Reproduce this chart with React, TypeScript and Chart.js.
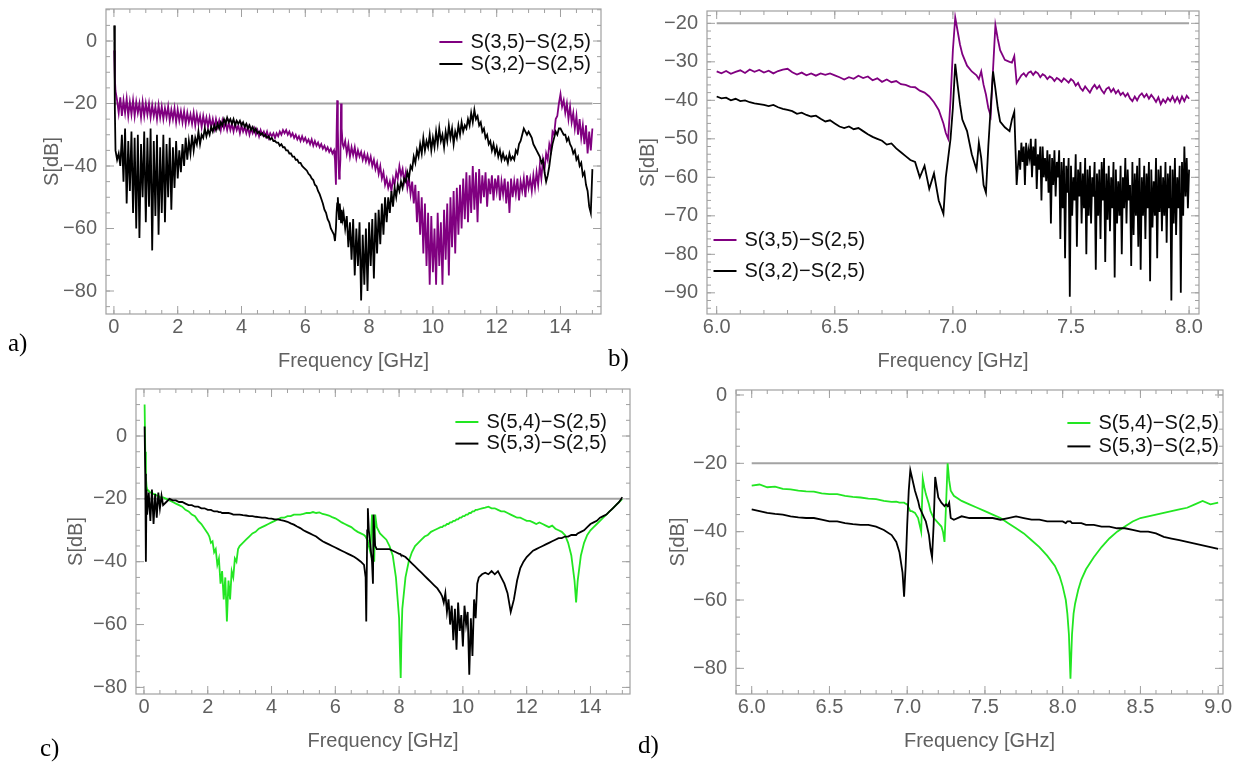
import React, { useEffect, useRef } from "react";
import { Chart, registerables } from "chart.js";

Chart.register(...registerables);

// ---------------- Panel a) ----------------
const aFreq = [
  0.01, 0.03,
  0.05, 0.1, 0.15, 0.2, 0.25, 0.3, 0.35, 0.4, 0.45, 0.5, 0.55, 0.6, 0.65, 0.7, 0.75, 0.8, 0.85, 0.9, 0.95, 1.0,
  1.05, 1.1, 1.15, 1.2, 1.25, 1.3, 1.35, 1.4, 1.45, 1.5, 1.55, 1.6, 1.65, 1.7, 1.75, 1.8, 1.85, 1.9, 1.95, 2.0,
  2.05, 2.1, 2.15, 2.2, 2.25, 2.3, 2.35, 2.4, 2.45, 2.5, 2.55, 2.6, 2.65, 2.7, 2.75, 2.8, 2.85, 2.9, 2.95, 3.0,
  3.05, 3.1, 3.15, 3.2, 3.25, 3.3, 3.35, 3.4, 3.45, 3.5, 3.55, 3.6, 3.65, 3.7, 3.75, 3.8, 3.85, 3.9, 3.95, 4.0,
  4.05, 4.1, 4.15, 4.2, 4.25, 4.3, 4.35, 4.4, 4.45, 4.5, 4.55, 4.6, 4.65, 4.7, 4.75, 4.8, 4.85, 4.9, 4.95, 5.0,
  5.05, 5.1, 5.15, 5.2, 5.25, 5.3, 5.35, 5.4, 5.45, 5.5, 5.55, 5.6, 5.65, 5.7, 5.75, 5.8, 5.85, 5.9, 5.95, 6.0,
  6.05, 6.1, 6.15, 6.2, 6.25, 6.3, 6.35, 6.4, 6.45, 6.5, 6.55, 6.6, 6.65, 6.7, 6.75, 6.8, 6.85, 6.9,
  6.93, 6.96, 6.98, 7.0, 7.02, 7.04, 7.06, 7.08, 7.1, 7.12, 7.14, 7.17, 7.2, 7.25,
  7.3, 7.35, 7.4, 7.45, 7.5, 7.55, 7.6, 7.65, 7.7, 7.75, 7.8, 7.85, 7.9, 7.95, 8.0,
  8.05, 8.1, 8.15, 8.2, 8.25, 8.3, 8.35, 8.4, 8.45, 8.5, 8.55, 8.6, 8.65, 8.7, 8.75, 8.8, 8.85, 8.9, 8.95, 9.0,
  9.05, 9.1, 9.15, 9.2, 9.25, 9.3, 9.35, 9.4, 9.45, 9.5, 9.55, 9.6, 9.65, 9.7, 9.75, 9.8, 9.85, 9.9, 9.95, 10.0,
  10.05, 10.1, 10.15, 10.2, 10.25, 10.3, 10.35, 10.4, 10.45, 10.5, 10.55, 10.6, 10.65, 10.7, 10.75, 10.8, 10.85, 10.9, 10.95, 11.0,
  11.05, 11.1, 11.15, 11.2, 11.25, 11.3, 11.35, 11.4, 11.45, 11.5, 11.55, 11.6, 11.65, 11.7, 11.75, 11.8, 11.85, 11.9, 11.95, 12.0,
  12.05, 12.1, 12.15, 12.2, 12.25, 12.3, 12.35, 12.4, 12.45, 12.5, 12.55, 12.6, 12.65, 12.7, 12.75, 12.8, 12.85, 12.9, 12.95, 13.0,
  13.05, 13.1, 13.15, 13.2, 13.25, 13.3, 13.35, 13.4, 13.45, 13.5, 13.55, 13.6, 13.65, 13.7, 13.75, 13.8, 13.85, 13.9, 13.95, 14.0,
  14.05, 14.1, 14.15, 14.2, 14.25, 14.3, 14.35, 14.4, 14.45, 14.5, 14.55, 14.6, 14.65, 14.7, 14.75, 14.8, 14.85, 14.9, 14.95, 15.0,
];
const aS35 = [
  -3, -12,
  -16, -19, -23, -18, -24, -19, -23, -18.5, -24, -19.5, -23.5, -19, -24, -19.5, -23, -20, -24.5, -19.5, -24, -20,
  -23.5, -20, -24.5, -20.5, -24, -21, -25, -20.5, -24.5, -21, -25, -21.5, -24.5, -21, -25.5, -22, -25, -21.5, -26, -22,
  -25.5, -22.5, -26, -22.5, -26.5, -23, -26, -23.5, -26.5, -23, -27, -23.5, -26.5, -24, -27.5, -24, -27, -24.5, -27.5, -24.5,
  -27.5, -25, -28, -25, -27.5, -25.5, -28.5, -25.5, -28, -26, -28.5, -26, -28.5, -26.5, -29, -26.5, -28.5, -27, -29.5, -27,
  -29, -27.5, -29.5, -27.5, -30, -28, -29.5, -28, -30, -28.5, -30.5, -28.5, -30, -29, -30.5, -29, -31, -29.5, -30.5, -29.5,
  -31, -29.5, -30.5, -29, -30, -28.5, -29.5, -28.5, -30, -29, -30.5, -29.5, -31, -30, -31.5, -30.5, -32, -30.5, -32, -31,
  -32.5, -31.5, -33, -31.5, -33.5, -32, -33.5, -32.5, -34, -33, -34.5, -33.5, -35, -34, -35.5, -34.5, -36, -35,
  -38, -46, -30, -19, -28, -38, -44, -42, -38, -20, -28, -33, -34, -32,
  -36, -33, -37, -34, -36.5, -34, -37.5, -35, -37, -35.5, -38, -36, -38.5, -36.5, -39,
  -37, -40, -38, -41, -39, -42.5, -40, -44, -42, -46, -44, -47, -45, -48, -44, -46, -42, -44, -40, -43,
  -41, -45, -42, -47, -44, -49, -45, -52, -46, -58, -48, -62, -50, -68, -52, -72, -55, -78, -56, -74,
  -60, -78, -55, -72, -58, -78, -54, -70, -52, -75, -50, -66, -48, -68, -47, -62, -46, -60, -44, -57,
  -42, -58, -43, -55, -40, -54, -42, -58, -41, -52, -43, -50, -42, -53, -44, -49, -43, -51, -44, -48,
  -43, -51, -45, -49, -44, -52, -45, -55, -44, -50, -45, -49, -44, -51, -45, -48, -44, -50, -43, -47,
  -44, -48, -43, -47, -42, -46, -40, -44, -38, -41, -36, -38, -33, -35, -29, -30, -25, -24, -20, -17,
  -21, -19, -23, -20, -25, -21, -26, -23, -28, -24, -30, -25, -31, -27, -33, -27, -36, -29, -35, -28,
];
const aS32 = [
  5, -22,
  -35, -38, -36, -40, -30, -45, -28, -52, -32, -48, -29, -55, -31, -60, -30, -63, -33, -50, -29, -58,
  -31, -53, -28, -67, -32, -56, -30, -62, -34, -55, -30, -58, -33, -50, -31, -54, -34, -47, -32, -44,
  -35, -42, -33, -40, -31, -38, -32, -36, -30, -35, -31, -33, -29, -33, -30, -31, -28, -30.5, -28.5, -30,
  -27.5, -29, -27, -28.5, -26.5, -28, -26, -27, -25, -26.5, -24.5, -26, -25, -26.5, -25, -27, -25.5, -26.5, -25.5, -27,
  -26, -27.5, -26.5, -28, -27, -28.5, -27.5, -29, -28, -29.5, -29, -30, -29.5, -30.5, -30, -31, -30.5, -31.5, -31, -32,
  -32, -32.5, -32.5, -33.5, -33, -34, -34, -35, -35, -36, -36, -37, -37, -38, -38, -39, -39, -40, -40.5, -41,
  -41.5, -42.5, -43, -44, -44.5, -46, -46.5, -48, -49, -50.5, -52, -54, -55, -57, -58, -60, -61, -62,
  -64, -60, -55, -52, -50, -54, -57, -52, -55, -58, -54, -57, -55, -60,
  -56, -66, -58, -70, -57, -75, -60, -72, -58, -83, -62, -78, -60, -80, -58,
  -72, -57, -76, -55, -68, -54, -65, -52, -62, -50, -58, -50, -55, -48, -53, -47, -50, -46, -48, -45,
  -47, -44, -45, -42, -44, -40, -41, -37, -39, -35, -37, -33, -36, -31, -35, -32, -34, -30, -35, -31,
  -34, -29, -33, -28, -32, -30, -34, -29, -32, -27, -31, -28, -33, -29, -31, -27, -30, -26, -29, -27,
  -28, -25, -27, -23, -26, -22, -25, -24, -27, -26, -29, -28, -31, -30, -33, -32, -35, -33, -36, -34,
  -37, -35, -38, -36, -38, -37, -39, -36, -38, -37, -38, -35, -36, -33, -32, -30, -28, -29, -30, -29,
  -30, -31, -33, -34, -35, -36, -37, -39, -38, -42, -45, -43, -40, -36, -33, -31, -29, -30, -28, -28,
  -29, -30, -30, -32, -31, -33, -34, -36, -35, -38, -37, -40, -39, -43, -42, -46, -48, -53, -55, -41,
];
const aXTicks = [0, 2, 4, 6, 8, 10, 12, 14];
const aYTicks = [0, -20, -40, -60, -80];

// ---------------- Panel b) ----------------
const bFreq35 = [
  6.0, 6.02, 6.04, 6.06, 6.08, 6.1, 6.12, 6.14, 6.16, 6.18,
  6.2, 6.22, 6.24, 6.26, 6.28, 6.3, 6.32, 6.34, 6.36, 6.38,
  6.4, 6.42, 6.44, 6.46, 6.48, 6.5, 6.52, 6.54, 6.56, 6.58,
  6.6, 6.62, 6.64, 6.66, 6.68, 6.7, 6.72, 6.74, 6.76, 6.78,
  6.8, 6.82, 6.84, 6.86, 6.88, 6.9, 6.92, 6.94, 6.96,
  6.97, 6.98, 6.99, 7.0, 7.01, 7.02, 7.03, 7.04, 7.06, 7.08,
  7.1, 7.11, 7.12, 7.13, 7.14, 7.15, 7.16, 7.17, 7.18, 7.19,
  7.2, 7.22, 7.24, 7.25, 7.26, 7.27,
  7.28, 7.29,
  7.3, 7.31, 7.32, 7.33, 7.34, 7.35, 7.36, 7.37, 7.38, 7.39,
  7.4, 7.41, 7.42, 7.43, 7.44, 7.45, 7.46, 7.47, 7.48, 7.49,
  7.5, 7.51, 7.52, 7.53, 7.54, 7.55, 7.56, 7.57, 7.58, 7.59,
  7.6, 7.61, 7.62, 7.63, 7.64, 7.65, 7.66, 7.67, 7.68, 7.69,
  7.7, 7.71, 7.72, 7.73, 7.74, 7.75, 7.76, 7.77, 7.78, 7.79,
  7.8, 7.81, 7.82, 7.83, 7.84, 7.85, 7.86, 7.87, 7.88, 7.89,
  7.9, 7.91, 7.92, 7.93, 7.94, 7.95, 7.96, 7.97, 7.98, 7.99,
  8.0,
];
const bS35 = [
  -32.5, -33, -32.4, -33.1, -32.6, -32.2, -32.9, -32.0, -32.6, -32.1,
  -32.8, -32.3, -33.0, -32.4, -32.0, -31.8, -32.7, -33.3, -32.8, -33.5,
  -33.0, -33.6, -33.0, -33.4, -33.0, -33.5, -34.0, -34.6, -34.0, -34.4,
  -33.6, -34.2, -33.8, -34.8, -34.3, -35.2, -34.6, -35.3, -35.0, -35.8,
  -36.0, -36.5, -36.6, -37.5, -38.0, -39.0, -40.5, -42.5, -46.0,
  -48.5, -50.0, -40, -27, -18.5, -22, -25.5, -28, -31, -32.5,
  -33.5, -34.5, -32.5, -36, -38.5, -42, -44, -32, -20.5, -24,
  -27, -29.5, -30, -30.2, -28.5, -35.5,
  -34.5, -33.5,
  -33.0, -33.8, -32.8, -32.5, -33.4, -32.6, -33.0, -34.0, -33.2, -33.6,
  -34.5, -33.8, -34.2, -35.0, -34.2, -34.6, -35.2, -34.3, -34.8, -35.4,
  -34.5, -35.0, -36.2, -35.5, -36.8, -37.5, -36.4, -37.2, -38.0, -36.8,
  -36.0, -37.0, -36.2, -37.4, -38.2, -37.0, -36.6, -37.8, -37.0, -38.2,
  -37.4, -38.6, -38.0, -39.0, -38.2, -39.5, -40.2, -39.0, -40.0, -38.8,
  -38.2, -39.2, -38.4, -39.6, -38.6, -39.4, -40.4, -39.2, -41.0, -39.8,
  -40.6, -39.4, -40.2, -39.0, -40.4, -39.2, -40.6, -39.0, -40.2, -38.8,
  -39.6,
];
const bFreq32 = [
  6.0, 6.02, 6.04, 6.06, 6.08, 6.1, 6.12, 6.14, 6.16, 6.18,
  6.2, 6.22, 6.24, 6.26, 6.28, 6.3, 6.32, 6.34, 6.36, 6.38,
  6.4, 6.42, 6.44, 6.46, 6.48, 6.5, 6.52, 6.54, 6.56, 6.58,
  6.6, 6.62, 6.64, 6.66, 6.68, 6.7, 6.72, 6.74, 6.76, 6.78,
  6.8, 6.82, 6.84, 6.86, 6.88, 6.9, 6.92, 6.94, 6.96,
  6.97, 6.98, 6.99, 7.0, 7.01, 7.02, 7.03, 7.04, 7.06, 7.08,
  7.1, 7.11, 7.12, 7.13, 7.14, 7.15, 7.16, 7.17, 7.18, 7.19,
  7.2, 7.22, 7.24, 7.25, 7.26, 7.27,
  7.28, 7.285, 7.29, 7.295, 7.3, 7.305, 7.31, 7.315, 7.32, 7.325, 7.33, 7.335, 7.34, 7.345, 7.35, 7.355, 7.36, 7.365, 7.37, 7.375,
  7.38, 7.385, 7.39, 7.395, 7.4, 7.405, 7.41, 7.415, 7.42, 7.425, 7.43, 7.435, 7.44, 7.445, 7.45, 7.455, 7.46, 7.465, 7.47, 7.475,
  7.48, 7.485, 7.49, 7.495, 7.5, 7.505, 7.51, 7.515, 7.52, 7.525, 7.53, 7.535, 7.54, 7.545, 7.55, 7.555, 7.56, 7.565, 7.57, 7.575,
  7.58, 7.585, 7.59, 7.595, 7.6, 7.605, 7.61, 7.615, 7.62, 7.625, 7.63, 7.635, 7.64, 7.645, 7.65, 7.655, 7.66, 7.665, 7.67, 7.675,
  7.68, 7.685, 7.69, 7.695, 7.7, 7.705, 7.71, 7.715, 7.72, 7.725, 7.73, 7.735, 7.74, 7.745, 7.75, 7.755, 7.76, 7.765, 7.77, 7.775,
  7.78, 7.785, 7.79, 7.795, 7.8, 7.805, 7.81, 7.815, 7.82, 7.825, 7.83, 7.835, 7.84, 7.845, 7.85, 7.855, 7.86, 7.865, 7.87, 7.875,
  7.88, 7.885, 7.89, 7.895, 7.9, 7.905, 7.91, 7.915, 7.92, 7.925, 7.93, 7.935, 7.94, 7.945, 7.95, 7.955, 7.96, 7.965, 7.97, 7.975,
  7.98, 7.985, 7.99, 7.995, 8.0,
];
const bS32 = [
  -39.0, -39.5, -39.3, -40.0, -39.6, -40.2, -40.0, -40.5, -40.8, -41.0,
  -41.2, -41.5, -41.2, -41.8, -42.2, -42.5, -42.8, -43.5, -43.2, -43.8,
  -44.2, -44.0, -44.8, -45.5, -45.2, -46.0, -46.8, -47.2, -46.8, -47.5,
  -47.2, -48.0, -48.8, -49.5, -50.0, -50.5, -51.5, -51.2, -52.5, -53.5,
  -54.5, -55.5, -56.0, -60.0, -57.0, -63.0, -59.0, -66.0, -69.5,
  -60, -55, -50, -42, -30.5, -36, -41, -45, -48, -54,
  -58, -51, -55, -62, -64, -52, -42, -32.5, -37, -42,
  -45.5, -47, -48, -45, -43, -62,
  -53, -58, -51, -56, -52, -62, -51, -57, -53, -55, -50, -60, -52, -57, -50, -63, -54, -58, -52, -66,
  -52, -60, -55, -61, -53, -64, -54, -72, -55, -62, -53, -65, -56, -60, -53, -76, -56, -68, -55, -81,
  -57, -64, -55, -91, -57, -70, -60, -66, -54, -78, -58, -65, -56, -72, -59, -68, -55, -80, -58, -70,
  -57, -72, -60, -65, -56, -84, -59, -70, -58, -76, -56, -66, -55, -82, -59, -71, -57, -74, -60, -68,
  -56, -86, -58, -72, -61, -70, -57, -80, -60, -68, -55, -72, -58, -66, -62, -83, -56, -75, -59, -70,
  -57, -78, -55, -84, -60, -70, -57, -76, -59, -68, -56, -87, -58, -73, -61, -70, -55, -81, -58, -69,
  -57, -74, -60, -70, -56, -77, -59, -68, -57, -92, -58, -72, -55, -75, -60, -68, -57, -90, -56, -70,
  -52, -65, -55, -68, -58,
];
const bXTicks = [6.0, 6.5, 7.0, 7.5, 8.0];
const bYTicks = [-20, -30, -40, -50, -60, -70, -80, -90];

// ---------------- Panel c) ----------------
const cFreq = [
  0.02, 0.04, 0.06, 0.08,
  0.1, 0.15, 0.2, 0.25, 0.3, 0.35, 0.4, 0.45, 0.5, 0.55, 0.6,
  0.7, 0.8, 0.9, 1.0,
  1.1, 1.2, 1.3, 1.4, 1.5, 1.6, 1.7, 1.8, 1.9, 2.0,
  2.05, 2.1, 2.15, 2.2, 2.25, 2.3, 2.35, 2.4, 2.45, 2.5, 2.55, 2.6, 2.65, 2.7, 2.75, 2.8, 2.85, 2.9, 2.95,
  3.0,
  3.1, 3.2, 3.3, 3.4, 3.5, 3.6, 3.7, 3.8, 3.9, 4.0,
  4.1, 4.2, 4.3, 4.4, 4.5, 4.6, 4.7, 4.8, 4.9, 5.0,
  5.1, 5.2, 5.3, 5.4, 5.5, 5.6, 5.7, 5.8, 5.9, 6.0,
  6.1, 6.2, 6.3, 6.4, 6.5, 6.6, 6.7, 6.8, 6.9,
  6.95, 6.97, 7.0, 7.02, 7.05, 7.1, 7.15, 7.18, 7.2, 7.22, 7.25,
  7.3, 7.4, 7.5, 7.6, 7.7, 7.8, 7.9, 8.0,
  8.03, 8.05, 8.07,
  8.1, 8.2, 8.3, 8.4, 8.5, 8.6, 8.7, 8.8, 8.9, 9.0,
  9.1, 9.2, 9.3,
  9.35, 9.4, 9.45, 9.5, 9.55, 9.6, 9.65, 9.7, 9.75, 9.8, 9.85, 9.9, 9.95, 10.0, 10.05, 10.1, 10.15, 10.2, 10.25, 10.3, 10.35, 10.4, 10.45,
  10.5, 10.6, 10.7, 10.8, 10.9, 11.0,
  11.1, 11.2, 11.3, 11.4, 11.5, 11.6, 11.7, 11.8, 11.9, 12.0,
  12.1, 12.2, 12.3, 12.4, 12.5, 12.6, 12.7, 12.8, 12.9, 13.0,
  13.1, 13.2, 13.3, 13.4, 13.5,
  13.55,
  13.6, 13.7, 13.8, 13.9, 14.0,
  14.1, 14.2, 14.3, 14.4, 14.5, 14.6, 14.7, 14.8, 14.9, 15.0,
];
const cS54 = [
  10, -5, -13, -16,
  -17, -17.5, -18, -18, -18.5, -18.5, -19, -19, -19.5, -19.5, -19.5,
  -20, -20.5, -21, -21.5,
  -22, -22.5, -23.5, -24, -25, -25.5, -27, -28, -29.5, -31,
  -32, -34, -33.5, -37, -36, -41, -39, -47, -43, -52, -45, -59, -46, -52, -43, -45, -39, -40, -36,
  -35,
  -34, -33, -32, -31, -30.5, -29.5, -29, -28.5, -28, -27.5,
  -27, -26.5, -26, -26, -25.5, -25.5, -25, -25, -25, -24.8,
  -24.5, -24.5, -24.2, -24.5, -24.3, -24.8, -25, -25.3, -25.8, -26.2,
  -26.8, -27.5, -28, -28.5, -29, -29.8, -30.5, -31, -31.5,
  -32, -32.5, -33, -33.5, -35, -37, -25, -28, -35, -40, -25,
  -29, -31, -32, -33, -35, -38, -45, -58,
  -70, -77, -66,
  -55, -45, -40, -37, -35, -34, -33, -32, -31.5, -30.5,
  -30, -29.5, -29,
  -29, -28.5, -28.5, -28, -28, -27.5, -27.5, -27, -27, -26.5, -26.5, -26, -26, -25.5, -25.5, -25, -25, -24.5, -24.5, -24, -24, -23.5, -23.5,
  -23.3, -23, -22.8, -22.5, -23, -23,
  -23.5, -24, -24, -24.5, -25, -25.5, -26, -26, -26.5, -27,
  -27, -27.5, -28, -27.5, -28, -28.5, -29, -28.5, -29.5, -30,
  -30.5, -31.5, -34, -38, -46,
  -53,
  -46, -38, -34, -31.5, -30,
  -29, -28, -27, -26, -25, -24, -23, -22, -21, -20,
];
const cS53 = [
  3, -12, -40, -17,
  -25, -18, -27, -17, -28, -18.5, -26, -18, -23, -19, -22,
  -21, -20, -20.5, -20.5,
  -21, -21, -21.5, -22, -22, -22.5, -22.5, -23, -23, -23.5,
  -23.5, -23.5, -23.8, -24, -24, -24, -24.2, -24.2, -24.5, -24.5, -24.5, -24.5, -24.5, -24.6, -24.8, -25, -25, -25, -25,
  -25,
  -25.2, -25.3, -25.5, -25.5, -25.7, -25.8, -26, -26, -26.2, -26.3,
  -26.5, -26.5, -26.8, -27, -27.3, -27.8, -28.2, -28.8, -29.3, -30,
  -30.5, -31, -31.5, -32, -32.8, -33.5, -34, -34.5, -35, -35.5,
  -36, -36.5, -37, -37.5, -38, -38.5, -39.2, -40, -41,
  -45, -59, -30, -23, -30, -35, -40, -47, -25, -30, -35,
  -36, -36, -36, -36, -36, -36.5, -37, -37.5,
  -37.5, -37.8, -38,
  -38, -38.5, -39.5, -40.5, -41.5, -42.5, -43.5, -44.5, -45.5, -46.5,
  -47.5, -48.5, -50,
  -51, -53, -50, -56, -52, -60, -54, -65, -55, -68, -53, -62, -57, -67, -54, -60, -56, -76, -58, -70, -52, -58, -47,
  -45, -44, -43.5, -44, -43, -44,
  -43, -45, -47, -50, -56, -52, -46, -42, -40, -38.5,
  -37.5, -36.5, -36, -35.5, -35, -34.5, -34, -33.5, -33, -32.5,
  -32.5, -32, -32, -31.5, -31.5,
  -31.5,
  -31, -30.5, -30, -29, -28,
  -27.5, -27, -26, -25.5, -25, -24, -23, -22, -21, -19.5,
];
const cXTicks = [0, 2, 4, 6, 8, 10, 12, 14];
const cYTicks = [0, -20, -40, -60, -80];

// ---------------- Panel d) ----------------
const dFreq = [
  6.0, 6.05, 6.1, 6.15, 6.2, 6.25, 6.3, 6.35, 6.4, 6.45,
  6.5, 6.55, 6.6, 6.65, 6.7, 6.75, 6.8, 6.85, 6.9,
  6.93, 6.95, 6.97, 6.98, 6.99, 7.0, 7.01, 7.02, 7.03, 7.05,
  7.07, 7.08, 7.09, 7.1, 7.11, 7.12, 7.14, 7.15, 7.16, 7.17,
  7.18, 7.19, 7.2, 7.22, 7.23, 7.24, 7.25, 7.26, 7.27, 7.28,
  7.3, 7.35, 7.4, 7.45, 7.5, 7.55, 7.6, 7.65, 7.7, 7.75,
  7.8, 7.85, 7.9, 7.95,
  7.98, 8.0, 8.02, 8.03, 8.04, 8.05, 8.06, 8.07, 8.08, 8.1, 8.12, 8.15,
  8.2, 8.25, 8.3, 8.35, 8.4, 8.45, 8.5, 8.55, 8.6, 8.65,
  8.7, 8.75, 8.8, 8.85, 8.9, 8.95, 9.0,
];
const dS54 = [
  -26.5, -26.2, -27, -26.8, -27.5, -27.6, -28, -28.2, -28.3, -28.8,
  -29, -29, -29.5, -29.8, -30, -30.3, -30.5, -31, -31.3,
  -31.2, -31.5, -31.5, -31.5, -31.8, -32, -33, -34, -34, -34.5,
  -36, -38, -40, -24.5, -27, -29, -32, -34, -35, -36,
  -36.5, -37, -37.5, -38.5, -40, -43, -32, -20, -25, -28,
  -29.5, -31, -32, -33, -34, -35, -36, -37.5, -39, -40.5,
  -42.5, -44.5, -47, -50,
  -53, -56, -60, -64, -70, -83, -70, -64, -61, -57, -54, -51,
  -47.5, -44.5, -42, -40, -38.5, -37, -36, -35.5, -35, -34.5,
  -34, -33.5, -33, -32, -31, -32, -31.5,
];
const dS53 = [
  -33.5, -34, -34.5, -34.8, -35, -35.5, -35.8, -36, -36, -36.5,
  -37, -37, -37.5, -37.8, -38, -38, -38.5, -39.5, -41,
  -43, -46, -52, -59, -50, -38, -28, -22, -24, -28,
  -31, -33, -34, -35, -36, -37, -41, -45, -47.5, -38,
  -24, -27, -30, -31.5, -32, -32.5, -32, -32.5, -31.5, -36,
  -36.5, -35.5, -36, -36, -36, -36, -36.5, -36, -35.5, -36,
  -36.5, -36.5, -37, -37,
  -37, -37, -37.5, -37, -37, -37, -37.5, -37.5, -37.5, -37.5, -37.5, -38,
  -38, -38.5, -38.5, -39, -39, -39.5, -40, -40, -40.5, -41.5,
  -42, -42.5, -43, -43.5, -44, -44.5, -45,
];
const dXTicks = [6.0, 6.5, 7.0, 7.5, 8.0, 8.5, 9.0];
const dYTicks = [0, -20, -40, -60, -80];

// ---------------- shared text ----------------
const THRESHOLD_DB = -20;
const X_TITLE = "Frequency [GHz]";
const Y_TITLE = "S[dB]";
const LABEL_S35 = "S(3,5)\u2212S(2,5)";
const LABEL_S32 = "S(3,2)\u2212S(2,5)";
const LABEL_S54 = "S(5,4)\u2212S(2,5)";
const LABEL_S53 = "S(5,3)\u2212S(2,5)";

// ---------------- styles ----------------
const PURPLE = "#800080";
const BLACK = "#000000";
const GREEN = "#22e622";
const REF_GRAY = "#a3a3a3";
const FRAME = "#a0a0a0";
const TEXT_GRAY = "#606060";
const SANS = '"Liberation Sans", Arial, Helvetica, sans-serif';
const Y_W = 100;
const X_H = 68;
const PAD_T = 12;
const PAD_R = 20;

const panels = [
  {
    key: "a",
    box: { l: 106, t: 9, r: 601, b: 314 },
    x: [-0.248, 15.27], y: [-87.36, 10.24],
    xTicks: aXTicks, yTicks: aYTicks, xMinor: 0.5, yMinor: 5, dec: 0,
    series: [
      { label: LABEL_S35, color: PURPLE, freq: aFreq, values: aS35 },
      { label: LABEL_S32, color: BLACK, freq: aFreq, values: aS32 },
    ],
    ref: [0, 15],
    legend: { align: "right", x: 10, y0: 33, dy: 22 },
    yTitle: 54,
  },
  {
    key: "b",
    box: { l: 707, t: 11, r: 1199, b: 314 },
    x: [5.959, 8.042], y: [-95.5, -16.8],
    xTicks: bXTicks, yTicks: bYTicks, xMinor: 0.1, yMinor: 2, dec: 1,
    series: [
      { label: LABEL_S35, color: PURPLE, freq: bFreq35, values: bS35 },
      { label: LABEL_S32, color: BLACK, freq: bFreq32, values: bS32 },
    ],
    ref: [6, 8],
    legend: { align: "left", x: 6.5, y0: 229, dy: 31 },
    yTitle: 59,
  },
  {
    key: "c",
    box: { l: 136, t: 389, r: 630, b: 694 },
    x: [-0.25, 15.24], y: [-82.1, 14.96],
    xTicks: cXTicks, yTicks: cYTicks, xMinor: 0.5, yMinor: 5, dec: 0,
    series: [
      { label: LABEL_S54, color: GREEN, freq: cFreq, values: cS54 },
      { label: LABEL_S53, color: BLACK, freq: cFreq, values: cS53 },
    ],
    ref: [0, 15],
    legend: { align: "right", x: 23, y0: 33, dy: 21.6 },
    yTitle: 60,
  },
  {
    key: "d",
    box: { l: 736, t: 390, r: 1223, b: 694 },
    x: [5.899, 9.031], y: [-87.5, 1.46],
    xTicks: dXTicks, yTicks: dYTicks, xMinor: 0.1, yMinor: 5, dec: 1,
    series: [
      { label: LABEL_S54, color: GREEN, freq: dFreq, values: dS54 },
      { label: LABEL_S53, color: BLACK, freq: dFreq, values: dS53 },
    ],
    ref: [6, 9],
    legend: { align: "right", x: 4, y0: 33, dy: 23.4 },
    yTitle: 58,
  },
];

function fmt(v: number, dec: number) {
  const s = Math.abs(v).toFixed(dec);
  return v < 0 ? "\u2212" + s : s;
}

function makeDecor(p: any) {
  return {
    id: "decor_" + p.key,
    afterDatasetsDraw(chart: any) {
      const { ctx, chartArea: ca, scales } = chart;
      const xs = scales.x;
      const ys = scales.y;
      ctx.save();
      ctx.strokeStyle = FRAME;
      ctx.lineWidth = 1.2;
      ctx.strokeRect(ca.left, ca.top, ca.right - ca.left, ca.bottom - ca.top);
      ctx.lineWidth = 1;
      const seg = (x1: number, y1: number, x2: number, y2: number) => {
        ctx.beginPath();
        ctx.moveTo(x1, y1);
        ctx.lineTo(x2, y2);
        ctx.stroke();
      };
      const xMinorStart = Math.ceil(p.x[0] / p.xMinor - 1e-9);
      for (let k = xMinorStart; k * p.xMinor <= p.x[1] + 1e-9; k++) {
        const px = xs.getPixelForValue(k * p.xMinor);
        seg(px, ca.bottom, px, ca.bottom - 4);
        seg(px, ca.top, px, ca.top + 4);
      }
      for (const v of p.xTicks) {
        const px = xs.getPixelForValue(v);
        seg(px, ca.bottom, px, ca.bottom - 8);
        seg(px, ca.top, px, ca.top + 8);
      }
      const yMinorStart = Math.ceil(p.y[0] / p.yMinor - 1e-9);
      for (let k = yMinorStart; k * p.yMinor <= p.y[1] + 1e-9; k++) {
        const py = ys.getPixelForValue(k * p.yMinor);
        seg(ca.left, py, ca.left + 4, py);
        seg(ca.right, py, ca.right - 4, py);
      }
      for (const v of p.yTicks) {
        const py = ys.getPixelForValue(v);
        seg(ca.left, py, ca.left + 8, py);
        seg(ca.right, py, ca.right - 8, py);
      }
      // axis titles
      ctx.fillStyle = TEXT_GRAY;
      ctx.font = "20px " + SANS;
      ctx.textAlign = "center";
      ctx.textBaseline = "middle";
      ctx.fillText(X_TITLE, (ca.left + ca.right) / 2, ca.bottom + 47);
      ctx.save();
      ctx.translate(ca.left - p.yTitle, (ca.top + ca.bottom) / 2);
      ctx.rotate(-Math.PI / 2);
      ctx.fillText(Y_TITLE, 0, 0);
      ctx.restore();
      // legend
      ctx.font = "20px " + SANS;
      ctx.textAlign = "left";
      ctx.textBaseline = "middle";
      const LINE = 23;
      const GAP = 8;
      p.series.forEach((s: any, i: number) => {
        const y = ca.top + p.legend.y0 + i * p.legend.dy;
        const tw = ctx.measureText(s.label).width;
        const textX =
          p.legend.align === "right"
            ? ca.right - p.legend.x - tw
            : ca.left + p.legend.x + LINE + GAP;
        const lx = textX - GAP - LINE;
        ctx.strokeStyle = s.color;
        ctx.lineWidth = 2;
        seg(lx, y, lx + LINE, y);
        ctx.fillStyle = "#111";
        ctx.fillText(s.label, textX, y);
      });
      ctx.restore();
    },
  };
}

function Panel({ p }: { p: any }) {
  const ref = useRef<HTMLCanvasElement | null>(null);
  const w = p.box.r - p.box.l + Y_W + PAD_R;
  const h = p.box.b - p.box.t + PAD_T + X_H;
  useEffect(() => {
    const canvas = ref.current;
    if (!canvas) return;
    const datasets: any[] = p.series.map((s: any) => ({
      label: s.label,
      data: s.freq.map((f: number, k: number) => ({ x: f, y: s.values[k] })),
      borderColor: s.color,
      borderWidth: 1.8,
      pointRadius: 0,
      fill: false,
      tension: 0,
      order: s.color === BLACK ? 0 : 1,
    }));
    datasets.push({
      label: "threshold",
      data: [
        { x: p.ref[0], y: THRESHOLD_DB },
        { x: p.ref[1], y: THRESHOLD_DB },
      ],
      borderColor: REF_GRAY,
      borderWidth: 2,
      pointRadius: 0,
      fill: false,
      order: 2,
    });
    const chart = new Chart(canvas, {
      type: "line",
      data: { datasets },
      options: {
        animation: false,
        responsive: false,
        devicePixelRatio: 1,
        events: [],
        layout: { padding: { left: 0, top: PAD_T, right: PAD_R, bottom: 0 } },
        plugins: { legend: { display: false }, tooltip: { enabled: false } },
        scales: {
          x: {
            type: "linear",
            min: p.x[0],
            max: p.x[1],
            grid: { display: false, drawTicks: false },
            border: { display: false },
            afterBuildTicks: (s: any) => {
              s.ticks = p.xTicks.map((v: number) => ({ value: v }));
            },
            afterFit: (s: any) => {
              s.height = X_H;
              s.paddingLeft = 0;
              s.paddingRight = 0;
            },
            ticks: {
              color: TEXT_GRAY,
              font: { family: SANS, size: 20 },
              padding: 1,
              maxRotation: 0,
              autoSkip: false,
              callback: (v: any) => fmt(Number(v), p.dec),
            },
          },
          y: {
            type: "linear",
            min: p.y[0],
            max: p.y[1],
            grid: { display: false, drawTicks: false },
            border: { display: false },
            afterBuildTicks: (s: any) => {
              s.ticks = p.yTicks.map((v: number) => ({ value: v }));
            },
            afterFit: (s: any) => {
              s.width = Y_W;
              s.paddingTop = 0;
              s.paddingBottom = 0;
            },
            ticks: {
              color: TEXT_GRAY,
              font: { family: SANS, size: 20 },
              padding: 9,
              autoSkip: false,
              callback: (v: any) => fmt(Number(v), 0),
            },
          },
        },
      },
      plugins: [makeDecor(p)],
    });
    return () => chart.destroy();
  }, [p]);
  return (
    <canvas
      ref={ref}
      width={w}
      height={h}
      style={{
        position: "absolute",
        left: p.box.l - Y_W,
        top: p.box.t - PAD_T,
        width: w,
        height: h,
      }}
    />
  );
}

const panelLabels = [
  { text: "a)", left: 8, top: 329 },
  { text: "b)", left: 608, top: 344 },
  { text: "c)", left: 40, top: 734 },
  { text: "d)", left: 638, top: 731 },
];

export default function App() {
  return (
    <div
      style={{
        position: "absolute",
        left: 0,
        top: 0,
        width: 1244,
        height: 764,
        background: "#ffffff",
        overflow: "hidden",
      }}
    >
      {panels.map((p) => (
        <Panel key={p.key} p={p} />
      ))}
      {panelLabels.map((l) => (
        <div
          key={l.text}
          style={{
            position: "absolute",
            left: l.left,
            top: l.top,
            fontFamily: '"Liberation Serif", "DejaVu Serif", serif',
            fontSize: 25,
            lineHeight: "28px",
            color: "#000",
          }}
        >
          {l.text}
        </div>
      ))}
    </div>
  );
}
